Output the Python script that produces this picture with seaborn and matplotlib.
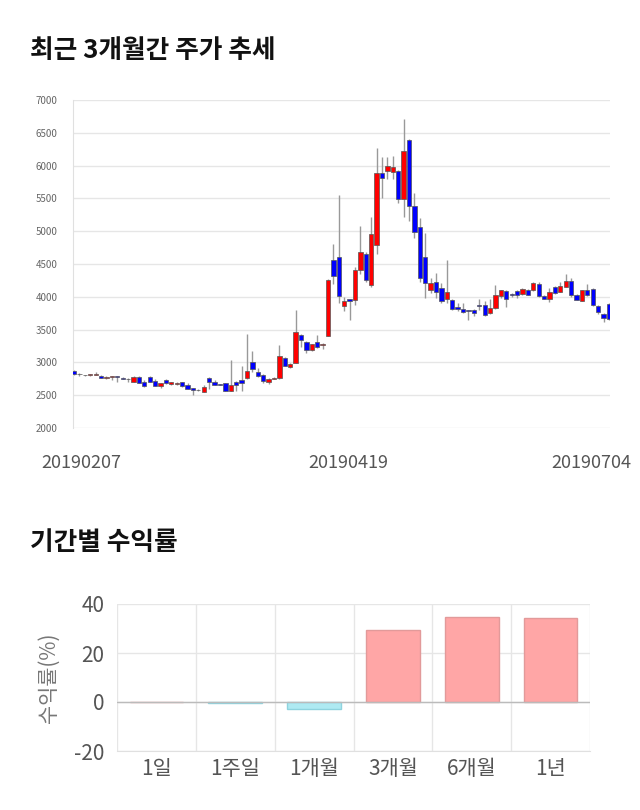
import numpy as np
import matplotlib
matplotlib.use("Agg")
import matplotlib.pyplot as plt
import matplotlib.transforms as mtransforms
import seaborn as sns

# 최근 3개월 일봉 (시가/고가/저가/종가), 그림에서 읽은 값
opens = [2870, 2820, 2808, 2810, 2810, 2800, 2760, 2785, 2795, 2765,
         2745, 2700, 2785, 2700, 2785, 2710, 2640, 2735, 2670, 2665,
         2695, 2655, 2610, 2578, 2550, 2765, 2705, 2660, 2680, 2570,
         2700, 2725, 2765, 3000, 2850, 2805, 2695, 2748, 2760, 3065,
         2930, 2990, 3420, 3310, 3195, 3310, 3262, 3410, 4560, 4605,
         3855, 3960, 3945, 4410, 4655, 4175, 4790, 5885, 5915, 5900,
         5920, 5490, 6390, 5390, 5060, 4605, 4105, 4225, 4140, 3970,
         3955, 3850, 3820, 3795, 3805, 3875, 3870, 3760, 3825, 4005,
         4095, 4045, 4085, 4050, 4105, 4100, 4190, 4015, 3970, 4145,
         4080, 4155, 4240, 4030, 3940, 4100, 4120, 3865, 3745, 3890]
highs = [2880, 2835, 2815, 2830, 2850, 2805, 2790, 2800, 2800, 2770,
         2760, 2790, 2790, 2730, 2790, 2740, 2690, 2745, 2705, 2700,
         2700, 2680, 2615, 2590, 2660, 2770, 2730, 2665, 2690, 3040,
         2720, 2950, 3435, 3180, 2920, 2820, 2760, 2770, 3270, 3080,
         2990, 3800, 3440, 3320, 3285, 3420, 3290, 4270, 4800, 5550,
         3990, 3965, 4460, 5080, 4680, 5220, 6265, 6130, 6130, 6140,
         5940, 6705, 6400, 5580, 5200, 4970, 4280, 4370, 4210, 4565,
         3960, 3900, 3900, 3800, 3820, 3960, 3930, 3960, 4180, 4110,
         4100, 4060, 4100, 4130, 4120, 4220, 4230, 4020, 4140, 4170,
         4230, 4350, 4280, 4050, 4110, 4200, 4130, 3870, 3760, 3900]
lows = [2815, 2800, 2795, 2800, 2805, 2760, 2745, 2735, 2700, 2740,
        2700, 2695, 2680, 2630, 2695, 2635, 2610, 2670, 2660, 2660,
        2620, 2590, 2510, 2570, 2545, 2600, 2650, 2650, 2560, 2565,
        2560, 2560, 2740, 2850, 2780, 2680, 2670, 2740, 2750, 2940,
        2920, 2985, 3230, 3150, 3180, 3220, 3200, 3400, 4200, 3900,
        3780, 3650, 3870, 4350, 4230, 4150, 4650, 5500, 5800, 5800,
        5430, 5215, 5150, 4900, 4230, 3980, 4060, 3980, 3900, 3900,
        3800, 3780, 3760, 3650, 3700, 3800, 3700, 3740, 3810, 3980,
        3850, 3990, 3980, 4030, 4020, 4090, 4000, 3960, 3920, 4050,
        4070, 4150, 4000, 3950, 3935, 4010, 3860, 3740, 3620, 3650]
closes = [2825, 2818, 2803, 2812, 2830, 2765, 2780, 2795, 2775, 2750,
          2747, 2785, 2685, 2635, 2700, 2640, 2685, 2680, 2700, 2690,
          2640, 2595, 2575, 2582, 2630, 2700, 2655, 2658, 2570, 2655,
          2650, 2685, 2875, 2900, 2800, 2710, 2745, 2752, 3105, 2950,
          2980, 3460, 3335, 3190, 3280, 3230, 3275, 4260, 4310, 4005,
          3935, 3935, 4415, 4680, 4250, 4955, 5885, 5810, 5990, 5975,
          5490, 6225, 5390, 4985, 4280, 4210, 4210, 4080, 3940, 4075,
          3820, 3815, 3775, 3790, 3755, 3855, 3720, 3830, 4020, 4100,
          3960, 4020, 4035, 4120, 4035, 4205, 4010, 3970, 4075, 4065,
          4160, 4240, 4025, 3955, 4100, 4025, 3870, 3775, 3680, 3660]
date_labels = ["20190207", "20190419", "20190704"]
date_pos = [0, 50, 99]

# 기간별 수익률
periods = ["1일", "1주일", "1개월", "3개월", "6개월", "1년"]
returns = [0.0, -0.3, -2.7, 29.5, 34.7, 34.3]

sns.set_style("white")
plt.rcParams["font.family"] = ["Noto Sans CJK KR", "DejaVu Sans"]
plt.rcParams["axes.unicode_minus"] = False

fig = plt.figure(figsize=(6.4, 8.1), dpi=100)
W, H = 640, 810

fig.text(30 / W, 1 - 51 / H, "최근 3개월간 주가 추세", fontsize=18.5,
         fontweight="bold", va="center", ha="left", color="#111111")
fig.text(30 / W, 1 - 543 / H, "기간별 수익률", fontsize=18.5,
         fontweight="bold", va="center", ha="left", color="#111111")

# ---- 주가 캔들 차트
ax1 = fig.add_axes([73 / W, 1 - 428 / H, (610 - 73) / W, (428 - 100) / H])
o = np.array(opens)
c = np.array(closes)
idx = np.arange(len(o))
cols = np.where(c >= o, "#ff0000", "#0000ff")
ax1.vlines(idx, lows, highs, color="#999999", lw=1, zorder=2)
body_h = np.maximum(np.abs(c - o), 8)
ax1.bar(idx, body_h, bottom=np.minimum(o, c), width=0.8, color=cols,
        edgecolor="#555555", linewidth=0.5, zorder=3)
ax1.set_xlim(-0.2, 99.2)
ax1.set_ylim(2000, 7000)
ax1.set_yticks(range(2000, 7001, 500))
ax1.tick_params(axis="y", labelsize=7, labelcolor="#666666", length=10,
                color="#e6e6e6", pad=1)
ax1.set_xticks(date_pos)
ax1.set_xticklabels(date_labels)
ax1.tick_params(axis="x", labelsize=13, labelcolor="#555555", length=0, pad=19)
for lab, dx in zip(ax1.get_xticklabels(), [7, 4, -18]):
    lab.set_transform(lab.get_transform() +
                      mtransforms.ScaledTranslation(dx / 100, 0, fig.dpi_scale_trans))
ax1.grid(axis="y", color="#e6e6e6", lw=1)
ax1.set_axisbelow(True)
for s in ["top", "right", "bottom"]:
    ax1.spines[s].set_visible(False)
ax1.spines["left"].set_color("#e0e0e0")

# ---- 기간별 수익률 막대
ax2 = fig.add_axes([117 / W, 1 - 751 / H, (590 - 117) / W, (751 - 604) / H])
bar_cols = ["#aeeaf2" if v < 0 else "#ffa6a6" for v in returns]
edge_cols = ["#8fd3de" if v < 0 else "#e29a9a" for v in returns]
sns.barplot(x=periods, y=returns, hue=periods, palette=bar_cols,
            legend=False, width=0.68, saturation=1, ax=ax2, zorder=3)
for p, ec in zip(ax2.patches, edge_cols):
    p.set_edgecolor(ec)
    p.set_linewidth(1)
ax2.set_ylim(-20, 40)
ax2.set_xlim(-0.5, 5.5)
ax2.set_yticks([-20, 0, 20, 40])
ax2.axhline(0, color="#bbbbbb", lw=1, zorder=4)
ax2.set_xticks(np.arange(-0.5, 6, 1), minor=True)
ax2.grid(axis="x", which="minor", color="#e6e6e6", lw=1)
ax2.grid(axis="y", which="major", color="#e6e6e6", lw=1)
ax2.set_axisbelow(True)
ax2.tick_params(axis="x", which="major", length=0, labelsize=15,
                labelcolor="#555555", pad=5)
ax2.tick_params(axis="x", which="minor", length=9, color="#e6e6e6")
ax2.tick_params(axis="y", labelsize=15, labelcolor="#555555", length=7,
                color="#e6e6e6", pad=2)
ax2.set_ylabel("수익률(%)", fontsize=15, color="#777777", labelpad=10)
for s in ["top", "right", "left"]:
    ax2.spines[s].set_visible(False)
ax2.spines["bottom"].set_color("#e0e0e0")

fig.savefig("out.png", dpi=100)
